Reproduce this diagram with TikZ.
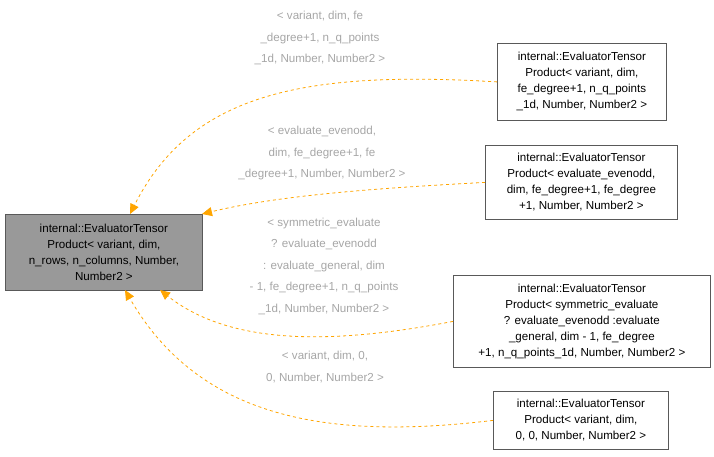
\documentclass[tikz,border=0pt]{standalone}
\usepackage{fontspec}
\setmainfont{Liberation Sans}
\usetikzlibrary{arrows.meta}
\definecolor{edgeor}{RGB}{255,165,0}
\begin{document}
\begin{tikzpicture}[x=1pt,y=-1pt,
  box/.style={draw=black!65,line width=0.8pt,fill=white,align=center,inner sep=0pt,font=\fontsize{11.6}{16}\selectfont,anchor=north west},
  lbl/.style={text=black!35,align=center,font=\fontsize{11.6}{21.5}\selectfont,inner sep=0pt},
  edge/.style={draw=edgeor,dashed,line width=0.8pt,-{Triangle[length=10pt,width=9pt]}},
]
\useasboundingbox (0,0) rectangle (714,456);
\node[box,fill=black!40,minimum width=197pt,minimum height=76pt] (m) at (5,214) {internal::EvaluatorTensor\\Product< variant, dim,\\ n\_rows, n\_columns, Number,\\Number2 >};
\node[box,minimum width=169pt,minimum height=77pt] (a) at (497,43) {internal::EvaluatorTensor\\Product< variant, dim,\\ fe\_degree+1, n\_q\_points\\\_1d, Number, Number2 >};
\node[box,minimum width=192pt,minimum height=74pt] (b) at (485,145) {internal::EvaluatorTensor\\Product< evaluate\_evenodd,\\ dim, fe\_degree+1, fe\_degree\\+1, Number, Number2 >};
\node[box,minimum width=257pt,minimum height=92pt] (c) at (453,275) {internal::EvaluatorTensor\\Product< symmetric\_evaluate\\ ? evaluate\_evenodd :evaluate\\\_general, dim - 1, fe\_degree\\+1, n\_q\_points\_1d, Number, Number2 >};
\node[box,minimum width=175pt,minimum height=58pt] (d) at (493,391) {internal::EvaluatorTensor\\Product< variant, dim,\\ 0, 0, Number, Number2 >};
\draw[edge] (a.west) .. controls (300,70) and (190,95) .. (130,214);
\draw[edge] (b.west) .. controls (380,188) and (280,195) .. (202,214);
\draw[edge] (c.west) .. controls (330,345) and (230,345) .. (160,290);
\draw[edge] (d.west) .. controls (330,440) and (200,420) .. (125,290);
\node[lbl] (la) at (320,38) {< variant, dim, fe\\\_degree+1, n\_q\_points\\\_1d, Number, Number2 >};
\node[lbl] (lb) at (322,153) {< evaluate\_evenodd,\\dim, fe\_degree+1, fe\\\_degree+1, Number, Number2 >};
\node[lbl] (lc) at (324,266) {< symmetric\_evaluate\\? evaluate\_evenodd\\: evaluate\_general, dim\\- 1, fe\_degree+1, n\_q\_points\\\_1d, Number, Number2 >};
\node[lbl] (ld) at (325,367) {< variant, dim, 0,\\0, Number, Number2 >};
\end{tikzpicture}
\end{document}
